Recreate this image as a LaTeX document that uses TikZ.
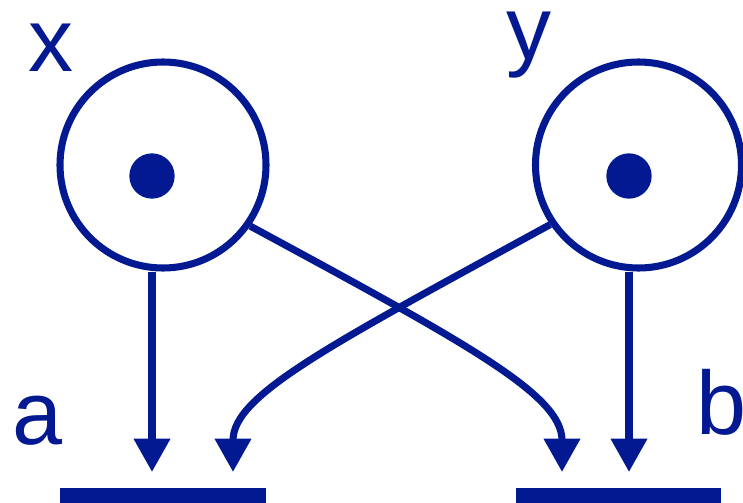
\documentclass[tikz,border=0pt]{standalone}
\usepackage{fontspec}
\setmainfont{Liberation Sans}
\usetikzlibrary{arrows.meta}
\definecolor{ink}{RGB}{3,25,145}
\tikzset{every picture/.style={line width=5.3pt}}
\tikzset{
  cell/.style={circle,draw=ink,line width=5.3pt,fill=white,inner sep=0pt,minimum size=154.5pt},
  core/.style={circle,fill=ink,inner sep=0pt,minimum size=34pt},
  wire/.style={color=ink,line width=5.3pt,-{Triangle[width=26.25pt,length=25pt]}},
  plate/.style={color=ink,line width=11.5pt},
  lbl/.style={inner sep=0pt,color=ink,font=\fontsize{67.5}{67.5}\selectfont}
}

\begin{document}
\begin{tikzpicture}[x=0.75pt,y=0.75pt,yscale=-1,xscale=1]
\useasboundingbox (0,0) rectangle (743,503);

%Shape: Circle [id:x]
\node [cell] (X) at (163,165) {};
\node [core] (Xdot) at (152,176) {};
%Shape: Circle [id:y]
\node [cell] (Y) at (638.5,165) {};
\node [core] (Ydot) at (629,176) {};

%Arrow ends
\coordinate (a1) at (152,472);
\coordinate (a2) at (233,472);
\coordinate (b1) at (562,472);
\coordinate (b2) at (629,472);

%Straight Lines
\draw [wire] (X.south -| Xdot) -- (a1);
\draw [wire] (Y.south -| Ydot) -- (b2);
%Curve Lines
\draw [wire] (X.-35) .. controls (470,345) and (562,395) .. (b1);
\draw [wire] (Y.-146) .. controls (330,345) and (233,395) .. (a2);

%Shape: Bars
\draw [plate] (60,495.5) -- (266,495.5);
\draw [plate] (516,495.5) -- (721,495.5);

% Text Node
\node [lbl,anchor=base west] (xl) at (25,72) {x};
% Text Node
\node [lbl,anchor=base west] (yl) at (503,60) {y};
% Text Node
\node [lbl,anchor=base west] (al) at (9,444) {a};
% Text Node
\node [lbl,anchor=base west] (bl) at (693,434) {b};

\end{tikzpicture}
\end{document}
